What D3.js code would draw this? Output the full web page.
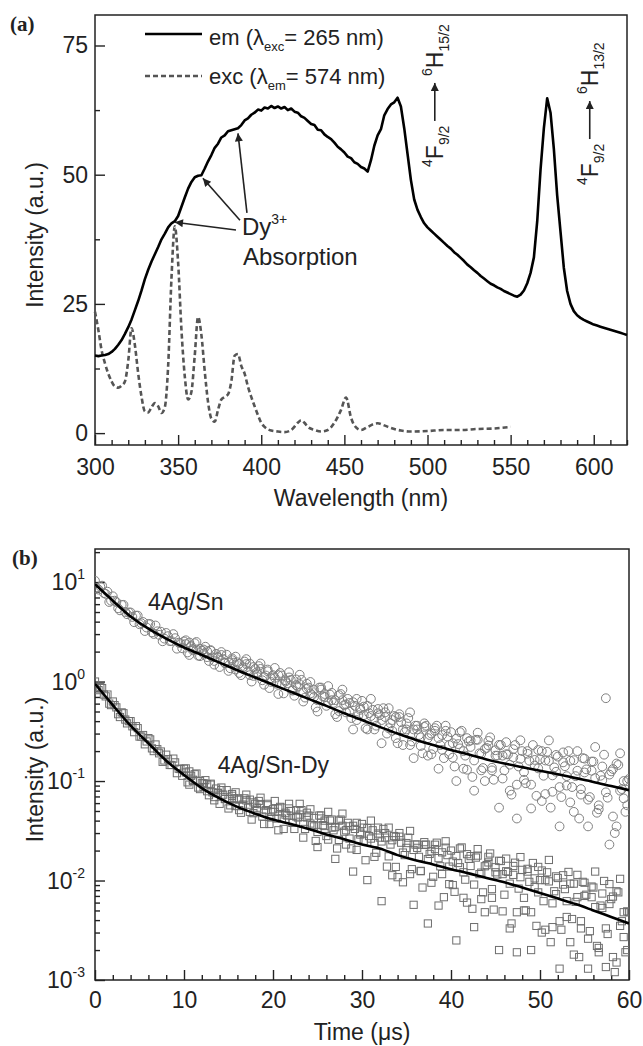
<!DOCTYPE html>
<html>
<head>
<meta charset="utf-8">
<script src="https://cdn.jsdelivr.net/npm/d3@7"></script>
<style>
  body { margin: 0; background: #fff; }
  svg { display: block; font-family: Arial, "Liberation Sans", sans-serif; }
</style>
</head>
<body>
<svg id="chart" width="643" height="1046"></svg>
<script>
// ---- panel (a): emission / excitation spectra ----
const emWavelength = d3.range(300, 621, 2)
const emIntensity = [
  15.0, 14.9, 15.0, 15.1, 15.3, 15.7, 16.3, 17.1, 18.0, 19.2,
  20.5, 22.0, 23.8, 25.6, 27.6, 29.8, 31.6, 33.2, 34.6, 36.0,
  37.5, 38.6, 39.8, 40.6, 41.0, 42.0, 43.8, 45.6, 47.3, 48.6,
  49.5, 49.8, 49.9, 51.2, 52.6, 53.8, 55.2, 56.0, 57.2, 57.6,
  58.4, 58.6, 58.8, 59.0, 59.6, 60.5, 60.9, 61.6, 62.0, 62.6,
  62.4, 63.0, 62.8, 63.3, 62.9, 63.2, 62.8, 63.1, 62.5, 62.8,
  62.2, 62.0, 61.3, 61.0, 60.4, 59.8, 59.6, 58.7, 58.6, 57.8,
  57.3, 56.9, 56.2, 55.4, 54.9, 54.3, 53.5, 53.2, 52.4, 52.1,
  51.5, 51.2, 50.6, 52.8, 55.6, 57.6, 58.8, 61.5, 62.7, 63.6,
  64.0, 64.9, 63.2, 59.0, 54.0, 49.0, 45.2, 43.2, 41.8, 40.6,
  39.8, 39.2, 38.6, 38.0, 37.4, 36.8, 36.2, 35.7, 35.0, 34.5,
  33.9, 33.3, 32.6, 32.1, 31.5, 31.0, 30.4, 29.9, 29.4, 28.9,
  28.6, 28.2, 27.9, 27.5, 27.2, 26.9, 26.6, 26.4, 26.8, 27.6,
  29.0, 31.0, 34.0, 41.0, 51.0, 59.0, 64.8, 62.0, 55.0, 46.0,
  39.0, 32.0, 27.5, 25.0, 23.6, 22.8, 22.3, 21.9, 21.6, 21.3,
  21.0, 20.8, 20.6, 20.4, 20.2, 20.0, 19.8, 19.6, 19.4, 19.2,
  19.0
]
const excWavelength = [
  300, 302, 304, 306, 308, 310, 312, 314, 316, 318, 320, 322, 324, 326, 328,
  330, 332, 334, 336, 338, 340, 342, 344, 346, 348, 350, 352, 354, 356, 358,
  360, 362, 364, 366, 368, 370, 372, 374, 376, 378, 380, 382, 384, 386, 388,
  390, 392, 394, 396, 398, 400, 402, 406, 410, 414, 418, 422, 424, 426, 428,
  432, 436, 440, 444, 448, 451, 454, 456, 460, 464, 468, 470, 474, 478, 484,
  490, 500, 510, 520, 530, 540, 550
]
const excIntensity = [
  23.5, 20.0, 16.0, 13.5, 11.5, 10.0, 9.0, 8.8, 9.2, 10.0, 14.0, 20.3, 17.0, 11.5, 7.0,
  4.2, 4.0, 5.0, 5.8, 5.2, 3.9, 5.0, 13.0, 30.0, 40.0, 33.0, 20.0, 11.0, 6.5, 8.0,
  15.0, 22.5, 19.0, 12.0, 6.0, 2.8, 2.2, 4.5, 6.5, 7.0, 7.5, 10.0, 15.0, 15.3, 13.0,
  11.5, 9.0, 7.0, 5.2, 3.5, 2.0, 1.2, 0.5, 0.3, 0.2, 0.6, 2.0, 2.5, 2.0, 1.2,
  0.6, 0.3, 0.6, 2.0, 4.5, 6.9, 3.0, 1.5, 0.6, 1.2, 1.8, 1.9, 1.5, 1.0, 0.5,
  0.3, 0.4, 0.6, 0.6, 0.8, 0.9, 1.2
]
const wavelengthTicks = [300, 350, 400, 450, 500, 550, 600]
const intensityTicks = [0, 25, 50, 75]

// ---- panel (b): luminescence decay ----
const decayTime = d3.range(151).map(i => +(i * 0.4).toFixed(1))
const midTime = d3.range(150).map(i => +(0.2 + i * 0.4).toFixed(1))
const extraTime = d3.range(125).map(i => +(10.2 + i * 0.4).toFixed(1))
const snIntensity = [
  10.3, 8.4, 9.2, 7.6, 6.3, 7.2, 6.3, 5.2, 5.9, 4.75,
  4.95, 3.95, 4.6, 3.86, 3.22, 3.8, 3.12, 3.66, 2.95, 2.54,
  3.08, 2.55, 3.0, 2.14, 2.44, 2.53, 1.96, 2.27, 2.43, 1.82,
  2.04, 2.24, 1.61, 1.75, 1.9, 1.4, 1.68, 1.86, 1.36, 1.55,
  1.56, 1.16, 1.59, 1.27, 1.0, 1.34, 1.43, 1.03, 1.15, 0.86,
  1.16, 0.95, 1.22, 0.76, 0.96, 1.04, 0.72, 0.89, 1.04, 0.69,
  0.87, 0.73, 0.55, 0.87, 0.71, 0.57, 0.74, 0.61, 0.44, 0.75,
  0.58, 0.67, 0.43, 0.57, 0.46, 0.64, 0.34, 0.48, 0.52, 0.36,
  0.46, 0.54, 0.3, 0.38, 0.45, 0.24, 0.39, 0.31, 0.43, 0.25,
  0.36, 0.29, 0.19, 0.36, 0.29, 0.21, 0.36, 0.23, 0.17, 0.28,
  0.31, 0.14, 0.235, 0.32, 0.18, 0.25, 0.11, 0.26, 0.19, 0.135,
  0.215, 0.275, 0.103, 0.18, 0.23, 0.128, 0.185, 0.073, 0.23, 0.14,
  0.2, 0.095, 0.16, 0.23, 0.071, 0.165, 0.113, 0.197, 0.054, 0.137,
  0.176, 0.069, 0.141, 0.2, 0.087, 0.112, 0.042, 0.17, 0.131, 0.069,
  0.157, 0.048, 0.113, 0.184, 0.068, 0.125, 0.03, 0.145, 0.083, 0.049,
  0.105
]
const snMid = [
  8.7, 9.0, 7.75, 8.0, 6.5, 6.5, 5.45, 5.9, 5.0, 4.95,
  4.46, 4.6, 3.77, 3.97, 3.49, 3.78, 3.01, 3.2, 3.17, 2.7,
  2.86, 2.55, 2.73, 2.46, 2.16, 2.38, 2.47, 2.06, 2.1, 2.14,
  1.91, 2.02, 2.04, 1.61, 1.77, 1.85, 1.53, 1.56, 1.71, 1.32,
  1.51, 1.34, 1.5, 1.51, 1.14, 1.24, 1.34, 1.11, 1.32, 0.99,
  1.09, 1.16, 0.94, 1.03, 1.1, 0.81, 0.92, 0.94, 0.78, 0.95,
  0.76, 0.83, 0.65, 0.83, 0.7, 0.62, 0.77, 0.65, 0.505, 0.65,
  0.59, 0.5, 0.62, 0.41, 0.54, 0.46, 0.57, 0.45, 0.33, 0.48,
  0.41, 0.49, 0.34, 0.41, 0.27, 0.44, 0.33, 0.38, 0.23, 0.33,
  0.33, 0.225, 0.35, 0.27, 0.186, 0.32, 0.27, 0.206, 0.32, 0.23,
  0.172, 0.267, 0.213, 0.133, 0.27, 0.22, 0.161, 0.26, 0.128, 0.21,
  0.228, 0.128, 0.18, 0.231, 0.106, 0.186, 0.146, 0.209, 0.092, 0.167,
  0.123, 0.2, 0.092, 0.163, 0.134, 0.2, 0.074, 0.159, 0.114, 0.183,
  0.087, 0.154, 0.112, 0.061, 0.162, 0.127, 0.083, 0.168, 0.065, 0.127,
  0.107, 0.057, 0.14, 0.077, 0.116, 0.044, 0.15, 0.08, 0.1, 0.057
]
const snExtra = [
  2.6, 1.85, 2.13, 2.5, 1.8, 2.1, 1.76, 2.07, 1.48, 1.74,
  1.98, 1.54, 1.28, 1.64, 1.78, 1.22, 1.39, 1.68, 1.16, 1.4,
  1.19, 1.52, 0.93, 1.27, 1.08, 1.37, 0.75, 1.15, 1.0, 1.24,
  0.82, 1.05, 1.17, 0.63, 0.85, 0.99, 0.7, 0.5, 0.87, 0.75,
  0.9, 0.65, 0.47, 0.73, 0.83, 0.49, 0.61, 0.33, 0.67, 0.52,
  0.56, 0.33, 0.67, 0.42, 0.53, 0.24, 0.44, 0.54, 0.32, 0.44,
  0.47, 0.23, 0.33, 0.49, 0.17, 0.36, 0.275, 0.38, 0.18, 0.3,
  0.34, 0.133, 0.29, 0.36, 0.186, 0.24, 0.1, 0.31, 0.2, 0.13,
  0.256, 0.08, 0.306, 0.188, 0.1, 0.253, 0.136, 0.204, 0.054, 0.18,
  0.246, 0.08, 0.173, 0.042, 0.257, 0.103, 0.188, 0.053, 0.143, 0.205,
  0.063, 0.161, 0.256, 0.078, 0.124, 0.035, 0.194, 0.09, 0.16, 0.049,
  0.2, 0.073, 0.122, 0.035, 0.157, 0.22, 0.052, 0.102, 0.68, 0.023,
  0.132, 0.035, 0.19, 0.067, 0.1
]
const dyIntensity = [
  1.0, 0.82, 0.86, 0.71, 0.6, 0.63, 0.55, 0.44, 0.48, 0.38,
  0.4, 0.31, 0.34, 0.28, 0.234, 0.27, 0.213, 0.233, 0.19, 0.156,
  0.184, 0.145, 0.168, 0.12, 0.132, 0.133, 0.097, 0.113, 0.117, 0.086,
  0.095, 0.102, 0.072, 0.077, 0.084, 0.059, 0.073, 0.081, 0.057, 0.067,
  0.067, 0.048, 0.067, 0.054, 0.041, 0.059, 0.063, 0.044, 0.051, 0.037,
  0.052, 0.042, 0.055, 0.033, 0.045, 0.05, 0.033, 0.043, 0.051, 0.033,
  0.045, 0.036, 0.025, 0.045, 0.036, 0.028, 0.04, 0.032, 0.021, 0.041,
  0.031, 0.038, 0.021, 0.033, 0.026, 0.037, 0.016, 0.028, 0.032, 0.019,
  0.027, 0.033, 0.0138, 0.023, 0.028, 0.0108, 0.024, 0.018, 0.027, 0.013,
  0.023, 0.0173, 0.0085, 0.023, 0.0185, 0.0109, 0.024, 0.0139, 0.0068, 0.018,
  0.02, 0.0077, 0.015, 0.0215, 0.0102, 0.0165, 0.0052, 0.017, 0.0116, 0.0076,
  0.0143, 0.0187, 0.0051, 0.0115, 0.0157, 0.0072, 0.0122, 0.0037, 0.0151, 0.0083,
  0.0128, 0.005, 0.0097, 0.015, 0.0035, 0.0101, 0.0062, 0.0121, 0.0024, 0.0078,
  0.0106, 0.0032, 0.0082, 0.0122, 0.0041, 0.0061, 0.0017, 0.0097, 0.0072, 0.0031,
  0.0085, 0.0022, 0.0056, 0.0099, 0.0029, 0.0065, 0.0012, 0.0076, 0.0039, 0.0019,
  0.0048
]
const dyMid = [
  0.86, 0.88, 0.74, 0.74, 0.58, 0.58, 0.47, 0.49, 0.415, 0.4,
  0.355, 0.356, 0.28, 0.29, 0.25, 0.262, 0.2, 0.209, 0.198, 0.161,
  0.166, 0.145, 0.154, 0.133, 0.113, 0.122, 0.125, 0.1, 0.1, 0.1,
  0.087, 0.093, 0.092, 0.069, 0.076, 0.081, 0.066, 0.066, 0.074, 0.056,
  0.065, 0.056, 0.064, 0.065, 0.0475, 0.054, 0.0585, 0.048, 0.059, 0.043,
  0.049, 0.053, 0.042, 0.048, 0.053, 0.038, 0.044, 0.046, 0.037, 0.048,
  0.0374, 0.0425, 0.0308, 0.042, 0.0353, 0.0258, 0.041, 0.0344, 0.0256, 0.0355,
  0.032, 0.0264, 0.0355, 0.0203, 0.0303, 0.0251, 0.0336, 0.0264, 0.0173, 0.0297,
  0.0247, 0.03, 0.0175, 0.0254, 0.0137, 0.0276, 0.0191, 0.0238, 0.0116, 0.0203,
  0.0213, 0.0124, 0.0228, 0.0164, 0.0095, 0.0207, 0.0168, 0.0116, 0.0214, 0.0138,
  0.009, 0.0176, 0.0136, 0.0067, 0.0184, 0.014, 0.0091, 0.0178, 0.0065, 0.0139,
  0.0152, 0.0067, 0.0121, 0.0158, 0.0049, 0.0124, 0.0093, 0.014, 0.0048, 0.0108,
  0.0067, 0.0131, 0.0048, 0.0105, 0.0076, 0.0126, 0.0032, 0.0098, 0.0059, 0.011,
  0.0039, 0.0091, 0.0062, 0.0024, 0.0093, 0.0068, 0.0039, 0.0095, 0.0026, 0.0068,
  0.0054, 0.0021, 0.0074, 0.0033, 0.0058, 0.0017, 0.0078, 0.0035, 0.0048, 0.002
]
const dyExtra = [
  0.134, 0.092, 0.103, 0.119, 0.083, 0.095, 0.079, 0.094, 0.064, 0.076,
  0.086, 0.066, 0.053, 0.071, 0.077, 0.051, 0.058, 0.073, 0.049, 0.061,
  0.051, 0.068, 0.037, 0.057, 0.049, 0.063, 0.032, 0.054, 0.046, 0.059,
  0.038, 0.051, 0.059, 0.027, 0.043, 0.052, 0.035, 0.0217, 0.045, 0.04,
  0.049, 0.034, 0.0165, 0.04, 0.047, 0.023, 0.035, 0.0123, 0.038, 0.029,
  0.034, 0.0101, 0.04, 0.0238, 0.034, 0.0062, 0.027, 0.034, 0.0113, 0.0275,
  0.03, 0.0096, 0.0213, 0.0315, 0.0057, 0.023, 0.0125, 0.0243, 0.0037, 0.0197,
  0.0229, 0.0056, 0.0192, 0.0248, 0.0092, 0.0155, 0.0025, 0.021, 0.0121, 0.006,
  0.0176, 0.0034, 0.0207, 0.012, 0.0048, 0.0173, 0.0082, 0.0136, 0.002, 0.0116,
  0.0166, 0.0033, 0.0114, 0.0019, 0.0172, 0.005, 0.0123, 0.002, 0.0086, 0.0137,
  0.003, 0.0101, 0.0161, 0.0034, 0.0073, 0.0013, 0.0113, 0.0043, 0.0093, 0.0018,
  0.0114, 0.0033, 0.007, 0.0013, 0.0087, 0.0123, 0.0019, 0.0053, 0.00135, 0.0092,
  0.0069, 0.0015, 0.0104, 0.0027, 0.0049
]
const fitTime = d3.range(0, 61, 2)
const snFit = [
  9.5, 6.5, 4.5, 3.4, 2.7, 2.2, 1.85, 1.55, 1.3, 1.1, 0.93, 0.79, 0.67, 0.57, 0.48, 0.41,
  0.35, 0.30, 0.26, 0.23, 0.205, 0.185, 0.165, 0.15, 0.138, 0.127, 0.117, 0.107, 0.098, 0.089, 0.081
]
const dyFit = [
  0.95, 0.58, 0.36, 0.24, 0.16, 0.115, 0.085, 0.067, 0.055, 0.047, 0.041, 0.037, 0.033, 0.029, 0.026, 0.023,
  0.021, 0.018, 0.016, 0.0145, 0.013, 0.0118, 0.0106, 0.0096, 0.0085, 0.0075, 0.0066, 0.0058, 0.005, 0.0043, 0.0037
]
const timeTicks = [0, 10, 20, 30, 40, 50, 60]
const logTicks = [1e-3, 1e-2, 1e-1, 1, 10]
const logTickExponents = ['-3', '-2', '-1', '0', '1']

const ink = '#222'
const svg = d3.select('#chart')

const defs = svg.append('defs')
defs.append('marker')
    .attr('id', 'head')
    .attr('viewBox', '0 0 10 10')
    .attr('refX', 10).attr('refY', 5)
    .attr('markerUnits', 'userSpaceOnUse')
    .attr('markerWidth', 11).attr('markerHeight', 8)
    .attr('orient', 'auto')
  .append('path')
    .attr('d', 'M0,0 L10,5 L0,10 Z')
    .attr('fill', ink)

function styleAxis(g) {
    g.select('.domain').remove()
    g.selectAll('line').attr('stroke', ink).attr('stroke-width', 1.4)
    g.selectAll('text').attr('fill', ink).attr('font-size', 23)
}

// ================= panel (a) =================
const a = { left: 95, right: 627, top: 15, bottom: 445 }
const xA = d3.scaleLinear().domain([300, 620]).range([a.left, a.right])
const yA = d3.scaleLinear().domain([-2.3, 80.9]).range([a.bottom, a.top])

const gA = svg.append('g')

gA.append('g')
    .attr('transform', `translate(0,${a.bottom})`)
    .call(d3.axisBottom(xA).tickValues(d3.range(300, 621, 10).filter(d => d % 50)).tickSize(-5).tickFormat(''))
    .call(styleAxis)
gA.append('g')
    .attr('transform', `translate(0,${a.bottom})`)
    .call(d3.axisBottom(xA).tickValues(wavelengthTicks).tickSize(-10).tickPadding(14))
    .call(styleAxis)
gA.append('g')
    .attr('transform', `translate(${a.left},0)`)
    .call(d3.axisLeft(yA).tickValues([12.5, 37.5, 62.5]).tickSize(-5).tickFormat(''))
    .call(styleAxis)
gA.append('g')
    .attr('transform', `translate(${a.left},0)`)
    .call(d3.axisLeft(yA).tickValues(intensityTicks).tickSize(-10).tickPadding(7))
    .call(styleAxis)

gA.append('rect')
    .attr('x', a.left).attr('y', a.top)
    .attr('width', a.right - a.left).attr('height', a.bottom - a.top)
    .attr('fill', 'none').attr('stroke', ink).attr('stroke-width', 1.5)

const lineA = d3.line().x(d => xA(d[0])).y(d => yA(d[1]))

gA.append('path')
    .datum(excWavelength.map((w, i) => [w, excIntensity[i]]))
    .attr('d', lineA.curve(d3.curveMonotoneX))
    .attr('fill', 'none').attr('stroke', '#555').attr('stroke-width', 2.6)
    .attr('stroke-dasharray', '5,3')

gA.append('path')
    .datum(emWavelength.map((w, i) => [w, emIntensity[i]]))
    .attr('d', lineA.curve(d3.curveLinear))
    .attr('fill', 'none').attr('stroke', '#000').attr('stroke-width', 2.6)
    .attr('stroke-linejoin', 'round')

// legend
const legend = gA.append('g')
legend.append('line').attr('x1', 145).attr('x2', 202).attr('y1', 34).attr('y2', 34)
    .attr('stroke', '#000').attr('stroke-width', 2.6)
legend.append('line').attr('x1', 145).attr('x2', 202).attr('y1', 76).attr('y2', 76)
    .attr('stroke', '#555').attr('stroke-width', 2.6).attr('stroke-dasharray', '5,3')
const leg1 = legend.append('text').attr('x', 209).attr('y', 45).attr('font-size', 22).attr('fill', ink)
leg1.append('tspan').text('em (λ')
leg1.append('tspan').attr('font-size', 13).attr('dy', 6).text('exc')
leg1.append('tspan').attr('dy', -6).text('= 265 nm)')
const leg2 = legend.append('text').attr('x', 209).attr('y', 84).attr('font-size', 22).attr('fill', ink)
leg2.append('tspan').text('exc (λ')
leg2.append('tspan').attr('font-size', 13).attr('dy', 6).text('em')
leg2.append('tspan').attr('dy', -6).text('= 574 nm)')

// Dy3+ absorption annotation
const dyLabel = gA.append('text')
    .attr('x', xA(388.4)).attr('y', yA(38.3))
    .attr('font-size', 24).attr('fill', ink)
dyLabel.append('tspan').text('Dy')
dyLabel.append('tspan').attr('font-size', 14).attr('dy', -11).text('3+')
gA.append('text')
    .attr('x', xA(389)).attr('y', yA(32.5))
    .attr('font-size', 24).attr('fill', ink)
    .text('Absorption')

const dyArrows = [
    { from: [384.8, 39.3], to: [348.1, 40.8] },
    { from: [387.2, 41.2], to: [364.9, 49.3] },
    { from: [391.4, 42.6], to: [386.0, 58.0] }
]
gA.selectAll('.dy-arrow')
    .data(dyArrows)
    .enter().append('line')
        .attr('x1', d => xA(d.from[0])).attr('y1', d => yA(d.from[1]))
        .attr('x2', d => xA(d.to[0])).attr('y2', d => yA(d.to[1]))
        .attr('stroke', ink).attr('stroke-width', 1.6)
        .attr('marker-end', 'url(#head)')

// rotated transition labels
const transitions = [
    { wl: 509.2, val: 51.5, upper: '15/2' },
    { wl: 602.4, val: 48.0, upper: '13/2' }
]
transitions.forEach(t => {
    const g = gA.append('g')
        .attr('transform', `translate(${xA(t.wl)},${yA(t.val)}) rotate(-90)`)
        .attr('fill', ink)
    const lower = g.append('text').attr('x', 0).attr('font-size', 23)
    lower.append('tspan').attr('font-size', 14).attr('dy', -11).text('4')
    lower.append('tspan').attr('dy', 11).text('F')
    lower.append('tspan').attr('font-size', 14).attr('dy', 6).text('9/2')
    g.append('line')
        .attr('x1', 46).attr('x2', 84).attr('y1', -8).attr('y2', -8)
        .attr('stroke', ink).attr('stroke-width', 1.6)
        .attr('marker-end', 'url(#head)')
    const upper = g.append('text').attr('x', 91).attr('font-size', 23)
    upper.append('tspan').attr('font-size', 14).attr('dy', -11).text('6')
    upper.append('tspan').attr('dy', 11).text('H')
    upper.append('tspan').attr('font-size', 14).attr('dy', 6).text(t.upper)
})

gA.append('text')
    .attr('x', (a.left + a.right) / 2).attr('y', 506)
    .attr('text-anchor', 'middle').attr('font-size', 23).attr('fill', ink)
    .text('Wavelength (nm)')
gA.append('text')
    .attr('transform', `translate(43,${(a.top + a.bottom) / 2 + 5}) rotate(-90)`)
    .attr('text-anchor', 'middle').attr('font-size', 23).attr('fill', ink)
    .text('Intensity (a.u.)')
gA.append('text')
    .attr('x', 10).attr('y', 31)
    .attr('font-family', '"Liberation Serif", "Times New Roman", serif')
    .attr('font-weight', 'bold').attr('font-size', 21).attr('fill', ink)
    .text('(a)')

// ================= panel (b) =================
const b = { left: 95, right: 629, top: 549, bottom: 980 }
const xB = d3.scaleLinear().domain([0, 60]).range([b.left, b.right])
const yB = d3.scaleLog().domain([1e-3, 21.5]).range([b.bottom, b.top])

const gB = svg.append('g')

defs.append('clipPath').attr('id', 'clipB')
  .append('rect')
    .attr('x', b.left).attr('y', b.top)
    .attr('width', b.right - b.left).attr('height', b.bottom - b.top)

const minorLog = []
logTicks.slice(0, -1).forEach(p => d3.range(2, 10).forEach(m => minorLog.push(p * m)))
minorLog.push(20)

gB.append('g')
    .attr('transform', `translate(0,${b.bottom})`)
    .call(d3.axisBottom(xB).tickValues(d3.range(0, 61, 2).filter(d => d % 10)).tickSize(-5).tickFormat(''))
    .call(styleAxis)
gB.append('g')
    .attr('transform', `translate(0,${b.bottom})`)
    .call(d3.axisBottom(xB).tickValues(timeTicks).tickSize(-10).tickPadding(12))
    .call(styleAxis)
gB.append('g')
    .attr('transform', `translate(${b.left},0)`)
    .call(d3.axisLeft(yB).tickValues(minorLog).tickSize(-5).tickFormat(''))
    .call(styleAxis)
gB.append('g')
    .attr('transform', `translate(${b.left},0)`)
    .call(d3.axisLeft(yB).tickValues(logTicks).tickSize(-10).tickFormat(''))
    .call(styleAxis)

logTicks.forEach((v, i) => {
    const t = gB.append('text')
        .attr('x', b.left - 10).attr('y', yB(v) + 8)
        .attr('text-anchor', 'end').attr('font-size', 23).attr('fill', ink)
    t.append('tspan').text('10')
    t.append('tspan').attr('font-size', 14).attr('dy', -11).text(logTickExponents[i])
})

gB.append('rect')
    .attr('x', b.left).attr('y', b.top)
    .attr('width', b.right - b.left).attr('height', b.bottom - b.top)
    .attr('fill', 'none').attr('stroke', ink).attr('stroke-width', 1.5)

const plotB = gB.append('g').attr('clip-path', 'url(#clipB)')

const pair = (times, values) => times.map((t, i) => [t, values[i]])
const snPoints = pair(decayTime, snIntensity).concat(pair(midTime, snMid), pair(extraTime, snExtra))
const dyPoints = pair(decayTime, dyIntensity).concat(pair(midTime, dyMid), pair(extraTime, dyExtra))

plotB.append('g')
    .selectAll('circle')
    .data(snPoints)
    .enter().append('circle')
        .attr('cx', d => xB(d[0]))
        .attr('cy', d => yB(d[1]))
        .attr('r', 4.4)
        .attr('fill', 'none').attr('stroke', '#808080').attr('stroke-width', 1)

plotB.append('g')
    .selectAll('rect')
    .data(dyPoints)
    .enter().append('rect')
        .attr('x', d => xB(d[0]) - 3.6)
        .attr('y', d => yB(d[1]) - 3.6)
        .attr('width', 7.2).attr('height', 7.2)
        .attr('fill', 'none').attr('stroke', '#6e6e6e').attr('stroke-width', 1)

const fitLine = d3.line().x(d => xB(d[0])).y(d => yB(d[1])).curve(d3.curveMonotoneX)
;[snFit, dyFit].forEach(fit => {
    plotB.append('path')
        .datum(fitTime.map((t, i) => [t, fit[i]]))
        .attr('d', fitLine)
        .attr('fill', 'none').attr('stroke', '#000').attr('stroke-width', 2.6)
})

gB.append('text')
    .attr('x', xB(5.96)).attr('y', yB(5.3))
    .attr('font-size', 23).attr('fill', ink)
    .text('4Ag/Sn')
gB.append('text')
    .attr('x', xB(13.8)).attr('y', yB(0.12))
    .attr('font-size', 23).attr('fill', ink)
    .text('4Ag/Sn-Dy')

gB.append('text')
    .attr('x', (b.left + b.right) / 2).attr('y', 1040)
    .attr('text-anchor', 'middle').attr('font-size', 23).attr('fill', ink)
    .text('Time (μs)')
gB.append('text')
    .attr('transform', `translate(43,${(b.top + b.bottom) / 2 + 5}) rotate(-90)`)
    .attr('text-anchor', 'middle').attr('font-size', 23).attr('fill', ink)
    .text('Intensity (a.u.)')
gB.append('text')
    .attr('x', 12).attr('y', 565)
    .attr('font-family', '"Liberation Serif", "Times New Roman", serif')
    .attr('font-weight', 'bold').attr('font-size', 21).attr('fill', ink)
    .text('(b)')
</script>
</body>
</html>
